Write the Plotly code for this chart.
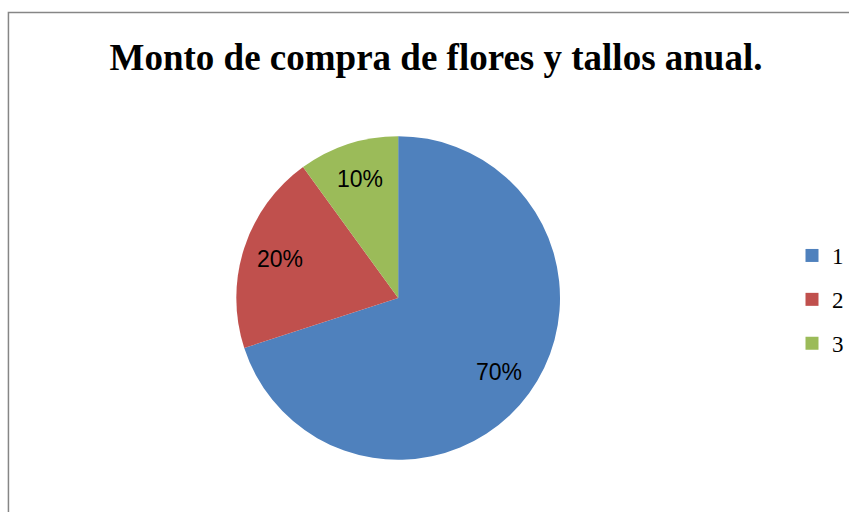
import math
import plotly.graph_objects as go

categories = ["1", "2", "3"]
values = [70, 20, 10]
colors = ["#4F81BD", "#C0504D", "#9BBB59"]
title_text = "Monto de compra de flores y tallos anual."

W, H = 849, 512
# pie placement (pixels)
cx, cy, r = 401, 298, 163

fig = go.Figure()
fig.add_trace(go.Pie(
    labels=categories, values=values, sort=False, direction="clockwise",
    rotation=0, marker=dict(colors=colors, line=dict(width=0)),
    textinfo="none",
    showlegend=False, hoverinfo="label+percent",
    domain=dict(x=[(cx - r) / W, (cx + r) / W], y=[(H - cy - r) / H, (H - cy + r) / H]),
))
for c, col in zip(categories, colors):
    fig.add_trace(go.Scatter(
        x=[None], y=[None], mode="markers", name=c, legendgroup=c,
        marker=dict(symbol="square", size=13, color=col),
    ))

# percentage labels at 0.77 r along each slice's mid-angle (Excel-like placement)
total = sum(values)
annotations = []
acc = 0
for v in values:
    mid = (acc + v / 2) / total * 2 * math.pi
    acc += v
    px = cx + 0.77 * r * math.sin(mid)
    py = cy - 0.77 * r * math.cos(mid)
    annotations.append(dict(
        x=px / W, y=1 - py / H, xref="paper", yref="paper", showarrow=False,
        text=f"{round(v / total * 100)}%", xanchor="center", yanchor="middle",
        font=dict(family="Liberation Sans", size=23, color="#000000"),
    ))

fig.update_layout(
    width=W, height=H, margin=dict(l=0, r=0, t=0, b=0),
    paper_bgcolor="white", plot_bgcolor="white",
    xaxis=dict(visible=False), yaxis=dict(visible=False),
    title=dict(text="<b>" + title_text + "</b>", x=436 / W, xanchor="center",
               y=1 - 57 / H, yanchor="middle",
               font=dict(family="Liberation Serif", size=37, color="#000000")),
    legend=dict(x=798 / W, y=1 - 234 / H, xanchor="left", yanchor="top",
                font=dict(family="Liberation Serif", size=23, color="#000000"),
                tracegroupgap=11, itemwidth=30, bgcolor="rgba(0,0,0,0)"),
    annotations=annotations,
    shapes=[dict(type="rect", xref="paper", yref="paper",
                 x0=8.5 / W, y0=-0.1, x1=1.1, y1=1 - 12.5 / H,
                 line=dict(color="#868686", width=1.5), fillcolor="rgba(0,0,0,0)",
                 layer="below")],
)
fig.write_html("out.html", config={"displayModeBar": False},
               post_script="document.body.style.margin='0';document.body.style.padding='0';")
